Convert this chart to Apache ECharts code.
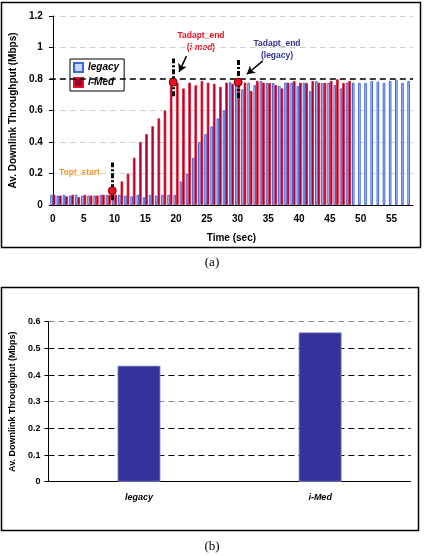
<!DOCTYPE html>
<html>
<head>
<meta charset="UTF-8">
<title></title>
<script src="https://cdn.jsdelivr.net/npm/echarts@6/dist/echarts.min.js"></script>
<style>
body{margin:0;background:#fff;}
#main{width:424px;height:556px;}
</style>
</head>
<body>
<div id="main"></div>
<script>
// time axis (sec)
var times = ['0','1','2','3','4','5','6','7','8','9','10','11','12','13','14','15','16','17','18','19',
	'20','21','22','23','24','25','26','27','28','29','30','31','32','33','34','35','36','37','38','39',
	'40','41','42','43','44','45','46','47','48','49','50','51','52','53','54','55','56','57','58'];
// per-second throughput (Mbps)
var legacy = [0.065,0.06,0.065,0.06,0.065,0.06,0.06,0.06,0.065,0.065,
	0.065,0.065,0.06,0.055,0.065,0.05,0.065,0.06,0.065,0.065,
	0.065,0.15,0.2,0.3,0.4,0.45,0.5,0.55,0.6,0.78,
	0.78,0.735,0.777,0.762,0.787,0.775,0.775,0.756,0.777,0.777,
	0.756,0.777,0.724,0.787,0.775,0.777,0.762,0.74,0.777,0.777,
	0.775,0.775,0.787,0.783,0.775,0.787,0.795,0.775,0.787];
var imed = [0.065,0.06,0.055,0.065,0.05,0.065,0.06,0.06,0.065,0.065,
	0.065,0.15,0.2,0.3,0.4,0.45,0.5,0.55,0.6,0.78,
	0.775,0.74,0.777,0.76,0.787,0.777,0.77,0.75,0.777,0.77,
	0.76,0.777,0.724,0.787,0.777,0.775,0.762,0.74,0.777,0.787,
	0.777,0.775,0.787,0.777,0.775,0.787,0.798,0.775,0.787];
var target = 0.8;
// marked instants: [time, value]
var markPts = [[9.65, 0.09], [19.55, 0.78], [30.1, 0.78]];
// dash-dot vertical markers: [time, from, to]
var markBars = [[9.65, 0.03, 0.27], [19.55, 0.69, 0.93], [30.1, 0.68, 0.92]];
// arrows: [fromTime, fromVal, toTime, toVal]
var arrows = [[21.7, 0.945, 20.5, 0.845], [34.1, 0.915, 31.5, 0.83]];
// summary chart
var cats = ['legacy', 'i-Med'];
var avg = [0.435, 0.56];

var font = 'Arial, "Liberation Sans", sans-serif';
var myChart = echarts.init(document.getElementById('main'));

var mlData = [];
for (var i = 0; i < markBars.length; i++) {
	mlData.push([
		{coord: [markBars[i][0], markBars[i][1]], symbol: 'none',
			lineStyle: {color: '#000', width: 3, type: [5, 2, 2, 2]}},
		{coord: [markBars[i][0], markBars[i][2]], symbol: 'none'}
	]);
}
for (var j = 0; j < arrows.length; j++) {
	mlData.push([
		{coord: [arrows[j][0], arrows[j][1]], symbol: 'none',
			lineStyle: {color: '#000', width: 1.5, type: 'solid'}},
		{coord: [arrows[j][2], arrows[j][3]], symbol: 'arrow', symbolSize: [7, 8]}
	]);
}

option = {
	animation: false,
	textStyle: {fontFamily: font},
	graphic: [
		{type: 'rect', shape: {x: 1.5, y: 2.5, width: 419, height: 245}, style: {fill: 'none', stroke: '#000', lineWidth: 1.5}, z: -1},
		{type: 'rect', shape: {x: 1.5, y: 287.5, width: 417, height: 243}, style: {fill: 'none', stroke: '#000', lineWidth: 1.5}, z: -1},
		{type: 'text', left: 'center', top: 256, style: {text: '(a)', font: '13px "Liberation Serif", "Times New Roman", serif', fill: '#000'}},
		{type: 'text', left: 'center', top: 540, style: {text: '(b)', font: '13px "Liberation Serif", "Times New Roman", serif', fill: '#000'}},
		{type: 'text', x: 59, y: 168, style: {text: 'Topt_start', font: 'bold 8.5px ' + font, fill: '#f7941d'}},
		{type: 'text', x: 201, y: 30, style: {text: 'Tadapt_end\n({i|i-med})', textAlign: 'center', font: 'bold 8.5px ' + font, fill: '#e8101e', lineHeight: 12,
			rich: {i: {fontStyle: 'italic', fontWeight: 'bold', fontSize: 8.5, fill: '#e8101e', fontFamily: font}}}},
		{type: 'text', x: 277, y: 38, style: {text: 'Tadapt_end\n(legacy)', textAlign: 'center', font: 'bold 8.5px ' + font, fill: '#333399', lineHeight: 12}}
	],
	legend: {
		data: ['legacy', 'i-Med'],
		orient: 'vertical',
		left: 70, top: 59,
		itemWidth: 9, itemHeight: 9, itemGap: 4,
		padding: [3, 5, 3, 3],
		borderColor: '#000', borderWidth: 1,
		backgroundColor: '#fff',
		icon: 'rect',
		textStyle: {fontWeight: 'bold', fontStyle: 'italic', fontSize: 10, color: '#000', fontFamily: font}
	},
	grid: [
		{left: 44.6, right: 11, top: 16, bottom: 351},
		{left: 43.3, right: 13.3, top: 321.7, bottom: 74.3}
	],
	xAxis: [
		{
			type: 'category', gridIndex: 0, data: times,
			name: 'Time (sec)', nameLocation: 'middle', nameGap: 28,
			nameTextStyle: {fontWeight: 'bold', fontSize: 10, color: '#000'},
			axisLine: {lineStyle: {color: '#000', width: 1}},
			axisTick: {interval: 0, length: 4, lineStyle: {color: '#000'}},
			axisLabel: {interval: 4, fontWeight: 'bold', fontSize: 10, color: '#000', margin: 9}
		},
		{type: 'value', gridIndex: 0, min: -0.5, max: 58.5, show: false},
		{
			type: 'category', gridIndex: 1, data: cats,
			axisLine: {lineStyle: {color: '#000', width: 1}},
			axisTick: {length: 4, lineStyle: {color: '#000'}},
			axisLabel: {fontWeight: 'bold', fontStyle: 'italic', fontSize: 9, color: '#000', margin: 11}
		}
	],
	yAxis: [
		{
			type: 'value', gridIndex: 0, min: 0, max: 1.2, interval: 0.2,
			name: 'Av. Downlink Throughput (Mbps)', nameLocation: 'middle', nameGap: 29,
			nameTextStyle: {fontWeight: 'bold', fontSize: 10, color: '#000'},
			axisLine: {show: true, lineStyle: {color: '#000'}},
			axisTick: {show: true, length: 4, lineStyle: {color: '#000'}},
			axisLabel: {fontWeight: 'bold', fontSize: 10, color: '#000', margin: 7},
			splitLine: {lineStyle: {color: '#d0d0d0', type: [6, 4]}}
		},
		{
			type: 'value', gridIndex: 1, min: 0, max: 0.6, interval: 0.1,
			name: 'Av. Downlink Throughput (Mbps)', nameLocation: 'middle', nameGap: 28,
			nameTextStyle: {fontWeight: 'bold', fontSize: 9, color: '#000'},
			axisLine: {show: true, lineStyle: {color: '#000'}},
			axisTick: {show: true, length: 4, lineStyle: {color: '#000'}},
			axisLabel: {fontWeight: 'bold', fontSize: 9, color: '#000', margin: 8},
			splitLine: {lineStyle: {color: ['#888', '#000', '#000'], type: [6, 4]}}
		}
	],
	series: [
		{
			name: 'legacy', type: 'bar', xAxisIndex: 0, yAxisIndex: 0, data: legacy,
			barGap: '0%', barCategoryGap: '16%',
			itemStyle: {color: '#c4d8ff', borderColor: '#3d66d8', borderWidth: 1},
			markLine: {
				silent: true, symbol: 'none', label: {show: false},
				lineStyle: {color: '#000', width: 1.5, type: [6, 4]},
				data: [{yAxis: target}]
			}
		},
		{
			name: 'i-Med', type: 'bar', xAxisIndex: 0, yAxisIndex: 0, data: imed,
			itemStyle: {color: '#990033', borderColor: '#e8102a', borderWidth: 0.8}
		},
		{
			name: 'marks', type: 'scatter', xAxisIndex: 1, yAxisIndex: 0, data: markPts,
			symbolSize: 8, z: 5,
			itemStyle: {color: '#e8101e', borderColor: '#700010', borderWidth: 1, opacity: 1},
			markLine: {silent: true, label: {show: false}, symbol: 'none', data: mlData}
		},
		{
			name: 'avg', type: 'bar', xAxisIndex: 2, yAxisIndex: 1, data: avg,
			barWidth: 43,
			itemStyle: {color: '#333399', borderColor: '#9a9ad8', borderWidth: 0.8}
		}
	]
};
myChart.setOption(option);
</script>
</body>
</html>
